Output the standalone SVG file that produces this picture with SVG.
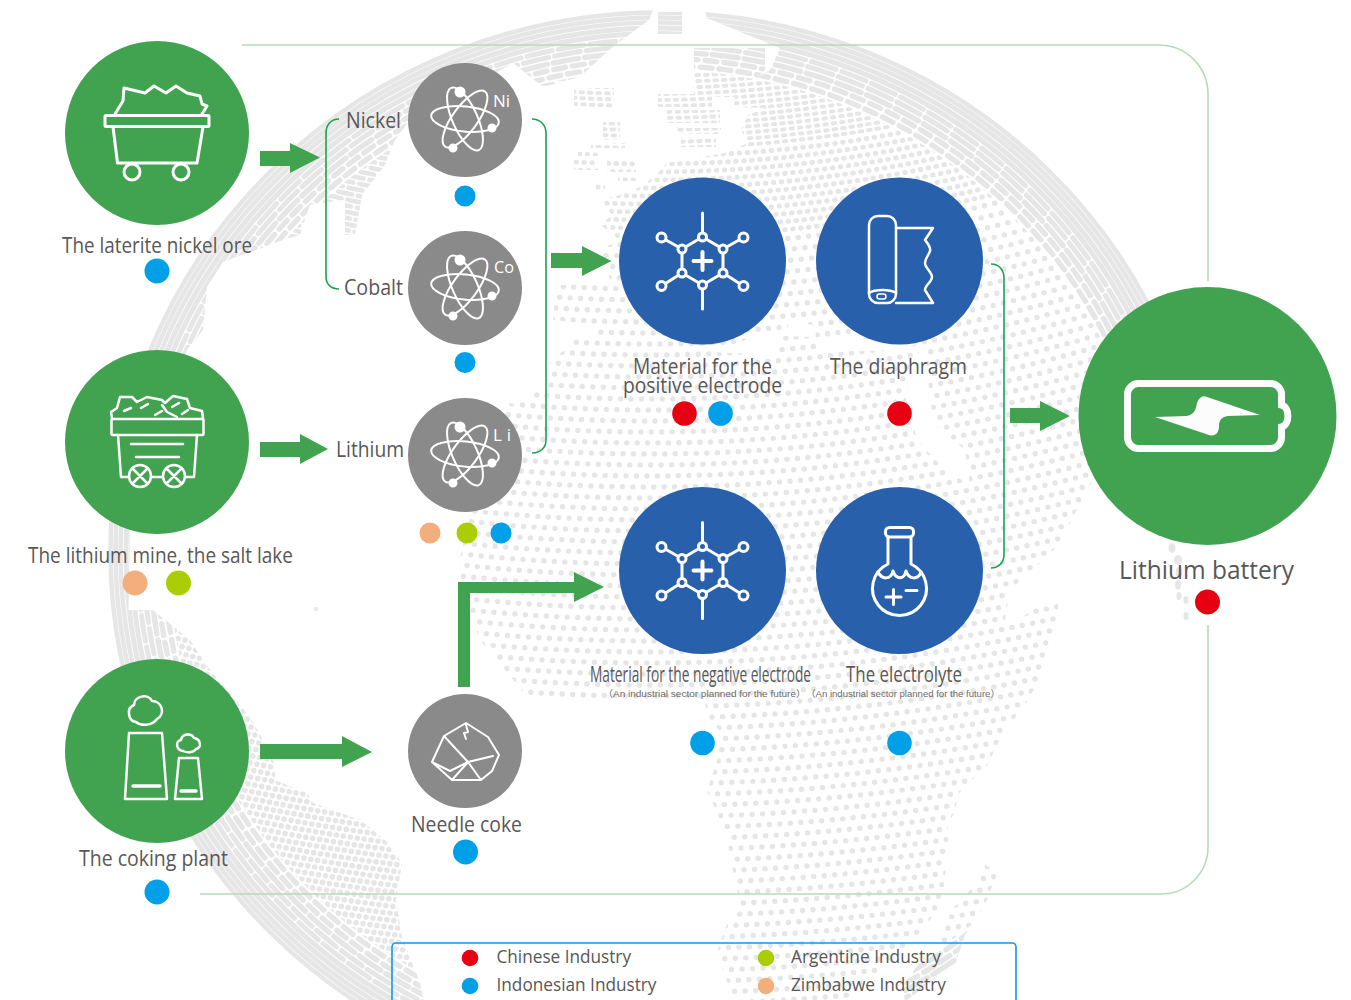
<svg xmlns="http://www.w3.org/2000/svg" xmlns:xlink="http://www.w3.org/1999/xlink" width="1351" height="1000" viewBox="0 0 1351 1000">
<style>
text{font-family:"Open Sans","Noto Sans","Noto Sans CJK SC",sans-serif;fill:#595757}
.l{font-size:21px;text-anchor:start}
.sub{font-family:"Liberation Sans","Noto Sans CJK SC",sans-serif;font-size:9.5px;fill:#6a6a6a}
.leg{font-size:18px}
.el{font-size:17px;fill:#fff}
.ar{fill:#41a350}
.g{fill:#41a350}.k{fill:#8a8a8a}.b{fill:#2860ac}
.ic{fill:none;stroke:#fff;stroke-width:3;stroke-linejoin:round;stroke-linecap:round}
.br{fill:none;stroke:#18a550;stroke-width:1.6}
.bx{fill:none;stroke:#b5dcb9;stroke-width:1.6}
.cb{fill:#00a0e9}.cr{fill:#e60012}.cg{fill:#abcd03}.co{fill:#f3ae7e}
#globe{fill:none;stroke:#e6e6e6;stroke-linecap:round}
</style>
<defs>
<path id="pM" clip-rule="evenodd" d="M700-5L707 18 748 35 780 48 770 70 735 90 734 107 765 108 748 115 741 130 748 143 725 153 667 163 654 177 640 187 620 195 600 200 612 215 600 225 620 240 600 250 612 285 556 285 553 320 596 325 596 335 576 338 565 350 550 360 548 385 515 405 505 400 495 440 470 513 457 573 470 610 480 640 530 700 590 703 705 703 707 712 709 719 719 730 719 755 707 791 717 812 726 834 734 876 741 909 726 926 716 955 725 973 734 1010 834 1010 887 964 894 955 909 944 926 926 937 909 944 887 948 844 948 823 955 812 958 794 976 776 987 766 1001 737 1019 712 1028 700 1037 684 1048 644 1058 619 1058 600 1040 603 1016 623 1005 620 1010 590 1032 570 1047 557 1060 543 1073 517 1087 490 1100 470 1150 440 1250 400 1250-5ZM710 352L775 355 790 322 815 325 817 352 900 350 922 342 905 395 917 440 945 470 970 485 965 450 935 425 930 400 925 345 880 340 760 335Z"/>
<path id="pP" d="M574 88H614V107H574ZM603 122H620V140H603ZM591 143H625V148H591ZM578 152H598V156H578ZM574 160H598V170H574ZM607 160H636V172H607ZM618 175H636V181H618ZM596 184H605V190H596ZM694 48H765V70L740 97H694ZM658 94H712V107H658ZM667 110H720V123H667ZM676 128H721V134H676ZM681 137H716V147H681ZM658 12H682V34H658ZM985 865L998 872 985 905 965 935 955 965 925 985 905 1003 903 985 920 962 940 948 945 915 962 900 978 880Z"/>
<path id="pL1" d="M90 640L128 640 130 530 187 350 203 330 207 287 223 262 283 240 300 235 310 205 345 200 345 235 355 235 362 195 385 165 395 140 410 120 513 63 543 87 580 77 609 50 649 20 655 5 650-5H90Z"/>
<path id="pL2" d="M95 610L153 610 190 640 210 670 250 717 263 740 275 765 275 780 307 793 313 803 360 820 385 840 402 863 396 900 402 937 420 983 425 1010H95Z"/>
<clipPath id="cAll"><use xlink:href="#pM" clip-rule="evenodd"/><use xlink:href="#pP"/><use xlink:href="#pL1"/><use xlink:href="#pL2"/></clipPath>
<clipPath id="cM"><use xlink:href="#pM" clip-rule="evenodd"/><use xlink:href="#pP"/></clipPath>
<clipPath id="cL1"><use xlink:href="#pL1"/></clipPath>
<clipPath id="cL2"><use xlink:href="#pL2"/></clipPath>
<clipPath id="cIn"><ellipse cx="660" cy="552" rx="492" ry="482"/></clipPath>
<g id="atom" class="ic" style="stroke-width:2">
<ellipse rx="34" ry="12.5" transform="rotate(6)"/><ellipse rx="34" ry="12.5" transform="rotate(66)"/><ellipse rx="34" ry="12.5" transform="rotate(126)"/>
<circle cx="-5" cy="-27" r="4.5" fill="#fff"/><circle cx="27" cy="9" r="3.5" fill="#fff"/><circle cx="-12" cy="29" r="3.5" fill="#fff"/>
</g>
<g id="hex" class="ic">
<path d="M0-48V-24L20.500-12V12L0 24V48M0 24L-20.500 12V-12L0-24M20.500-12L41-23.500M20.500 12L41 25M-20.500-12L-41-23.500M-20.500 12L-41 25"/>
<path style="stroke-width:4" d="M-9 0H9M0-9V9"/>
<g fill="#2860ac" style="fill:#2860ac"><circle cy="-24" r="4"/><circle cx="20.500" cy="-12" r="4"/><circle cx="20.500" cy="12" r="4"/><circle cy="24" r="4"/><circle cx="-20.500" cy="12" r="4"/><circle cx="-20.500" cy="-12" r="4"/><circle cx="-41" cy="-23.500" r="4.500"/><circle cx="41" cy="-23.500" r="4.500"/><circle cx="-41" cy="25" r="4.500"/><circle cx="41" cy="25" r="4.500"/></g>
</g>
</defs>

<g id="globe">
<g clip-path="url(#cAll)">
<ellipse cx="660" cy="552" rx="549.5" ry="539.5" stroke-width="4.500"/><ellipse cx="660" cy="552" rx="544.500" ry="534.500" stroke-width="4.500"/><ellipse cx="660" cy="552" rx="539.500" ry="529.500" stroke-width="4.500"/><ellipse cx="660" cy="552" rx="534" ry="524" stroke-width="5"/><ellipse cx="660" cy="552" rx="528.500" ry="518.500" stroke-width="5"/>
<g stroke-dasharray="26 6"><ellipse cx="660" cy="552" rx="522.500" ry="512.500" stroke-width="5"/><ellipse cx="660" cy="552" rx="516.500" ry="506.500" stroke-width="5"/><ellipse cx="660" cy="552" rx="510" ry="500" stroke-width="5.400"/></g>
<g stroke-dasharray="12 7"><ellipse cx="660" cy="552" rx="503.500" ry="493.500" stroke-width="5.400"/><ellipse cx="660" cy="552" rx="496.500" ry="486.500" stroke-width="5.400"/></g>
</g>
<g clip-path="url(#cIn)">
<g clip-path="url(#cM)"><g transform="translate(650,-1200)">
<g stroke-width="4" stroke-dasharray="2.500 6"><circle r="1222"/><circle r="1228"/><circle r="1234"/><circle r="1240"/><circle r="1246"/><circle r="1252"/><circle r="1258"/><circle r="1264"/><circle r="1270"/><circle r="1276"/><circle r="1282"/><circle r="1288"/><circle r="1294"/><circle r="1300"/><circle r="1306"/><circle r="1312"/><circle r="1318"/><circle r="1324"/><circle r="1330"/><circle r="1336"/><circle r="1342"/><circle r="1348"/></g>
<g stroke-width="5" stroke-dasharray="0.5 7.500"><circle r="1356"/><circle r="1364"/><circle r="1372"/><circle r="1380"/><circle r="1388"/><circle r="1396"/><circle r="1404"/><circle r="1412"/><circle r="1420"/><circle r="1428"/><circle r="1436"/></g>
<g stroke-width="5.400" stroke-dasharray="0 10.500"><circle r="1445"/><circle r="1456"/><circle r="1467"/><circle r="1478"/><circle r="1489"/><circle r="1500"/><circle r="1511"/><circle r="1522"/><circle r="1533"/><circle r="1544"/><circle r="1555"/><circle r="1566"/><circle r="1577"/><circle r="1588"/><circle r="1599"/><circle r="1610"/><circle r="1621"/><circle r="1632"/><circle r="1643"/><circle r="1654"/><circle r="1665"/><circle r="1676"/><circle r="1687"/><circle r="1698"/><circle r="1709"/><circle r="1720"/><circle r="1731"/><circle r="1742"/><circle r="1753"/><circle r="1764"/><circle r="1775"/><circle r="1786"/><circle r="1797"/><circle r="1808"/><circle r="1819"/><circle r="1830"/><circle r="1841"/><circle r="1852"/><circle r="1863"/><circle r="1874"/><circle r="1885"/><circle r="1896"/><circle r="1907"/><circle r="1918"/><circle r="1929"/><circle r="1940"/><circle r="1951"/><circle r="1962"/><circle r="1973"/><circle r="1984"/><circle r="1995"/><circle r="2006"/><circle r="2017"/><circle r="2028"/><circle r="2039"/><circle r="2050"/><circle r="2061"/><circle r="2072"/><circle r="2083"/><circle r="2094"/><circle r="2105"/><circle r="2116"/><circle r="2127"/><circle r="2138"/><circle r="2149"/><circle r="2160"/><circle r="2171"/><circle r="2182"/><circle r="2193"/><circle r="2204"/></g>
</g></g>
<g clip-path="url(#cL1)"><g transform="translate(650,-1200)" stroke-width="4.600" stroke-dasharray="14 6"><circle r="1222"/><circle r="1228"/><circle r="1234"/><circle r="1240"/><circle r="1246"/><circle r="1252"/><circle r="1258"/><circle r="1264"/><circle r="1270"/><circle r="1276"/><circle r="1282"/><circle r="1288"/><circle r="1294"/><circle r="1300"/><circle r="1306"/><circle r="1312"/><circle r="1318"/><circle r="1324"/><circle r="1330"/><circle r="1336"/><circle r="1342"/><circle r="1348"/><circle r="1354"/><circle r="1360"/><circle r="1366"/><circle r="1372"/><circle r="1378"/><circle r="1384"/><circle r="1390"/><circle r="1396"/><circle r="1402"/><circle r="1408"/><circle r="1414"/><circle r="1420"/><circle r="1426"/><circle r="1432"/><circle r="1438"/><circle r="1444"/><circle r="1450"/><circle r="1456"/><circle r="1462"/><circle r="1468"/><circle r="1474"/><circle r="1480"/><circle r="1486"/><circle r="1492"/><circle r="1498"/><circle r="1504"/><circle r="1510"/><circle r="1516"/><circle r="1522"/><circle r="1528"/></g></g>
<g clip-path="url(#cL2)"><g transform="translate(650,-1200)" stroke-width="5.600" stroke-dasharray="0 7"><circle r="1800"/><circle r="1807"/><circle r="1814"/><circle r="1821"/><circle r="1828"/><circle r="1835"/><circle r="1842"/><circle r="1849"/><circle r="1856"/><circle r="1863"/><circle r="1870"/><circle r="1877"/><circle r="1884"/><circle r="1891"/><circle r="1898"/><circle r="1905"/><circle r="1912"/><circle r="1919"/><circle r="1926"/><circle r="1933"/><circle r="1940"/><circle r="1947"/><circle r="1954"/><circle r="1961"/><circle r="1968"/><circle r="1975"/><circle r="1982"/><circle r="1989"/><circle r="1996"/><circle r="2003"/><circle r="2010"/><circle r="2017"/><circle r="2024"/><circle r="2031"/><circle r="2038"/><circle r="2045"/><circle r="2052"/><circle r="2059"/><circle r="2066"/><circle r="2073"/><circle r="2080"/><circle r="2087"/><circle r="2094"/><circle r="2101"/><circle r="2108"/><circle r="2115"/><circle r="2122"/><circle r="2129"/><circle r="2136"/><circle r="2143"/><circle r="2150"/><circle r="2157"/><circle r="2164"/><circle r="2171"/><circle r="2178"/><circle r="2185"/><circle r="2192"/><circle r="2199"/><circle r="2206"/></g></g>
</g>
<g style="fill:#e6e6e6;stroke:none"><ellipse cx="1172" cy="548" rx="3.500" ry="5"/><ellipse cx="1178" cy="560" rx="4" ry="5"/><ellipse cx="1179" cy="572" rx="3.500" ry="5"/><ellipse cx="1178" cy="585" rx="3" ry="5"/><ellipse cx="1179" cy="596" rx="2.500" ry="4"/><ellipse cx="1186" cy="600" rx="2.500" ry="4"/><ellipse cx="1186" cy="616" rx="2.500" ry="4"/><circle cx="316" cy="609" r="2"/></g>
</g>

<g id="connectors">
<path class="bx" d="M242 45H1159A49 49 0 0 1 1208 94V281"/>
<path class="bx" d="M200 894H1161A47 47 0 0 0 1208 847V625"/>
<path class="br" d="M339 119C331 119 326 125 326 133V277C326 284 331 289 339 289"/>
<path class="br" d="M532 119C540 119 546 125 546 133V440C546 448 540 453 532 453"/>
<path class="br" d="M991 264C999 264 1004 270 1004 278V555C1004 562 999 568 991 568"/>
<polygon class="ar" points="260,151 290,151 290,143 320,157.500 290,173 290,166 260,166"/>
<polygon class="ar" points="260,442 300,442 300,434 328,449 300,464 300,457 260,457"/>
<polygon class="ar" points="260,744 342,744 342,736 372,752 342,767 342,759 260,759"/>
<polygon class="ar" points="551,253 582,253 582,246 611.500,261 582,276 582,268 551,268"/>
<polygon class="ar" points="1010,408 1040,408 1040,401 1070,416 1040,431 1040,423 1010,423"/>
<polygon class="ar" points="458,687 458,582 574,582 574,572 604,587 574,602 574,593 470,593 470,687"/>
</g>

<g id="node-nickel-ore">
<circle class="g" cx="157" cy="133" r="92"/>
<g class="ic"><rect x="105" y="115.500" width="104" height="11" rx="1"/><path d="M113 127L117.500 163H197L203 127"/><circle cx="132" cy="172" r="8"/><circle cx="181" cy="172" r="8"/><path d="M115 114L123 101 124 88 145 93 154 86 166 93 176 86 187 93 200 96 202 104 207 106 202 114"/></g>
<text class="l" x="62" y="253" textLength="190" lengthAdjust="spacingAndGlyphs">The laterite nickel ore</text>
<circle class="cb" cx="157" cy="271" r="12.500"/>
</g>
<g id="node-lithium-mine">
<circle class="g" cx="157" cy="442" r="92"/>
<g class="ic" style="stroke-width:2.500"><rect x="111.500" y="419" width="92" height="16" rx="1"/><path d="M118 435L121 477H194L197 435M131 444H183M136 457H179"/><g fill="#41a350" style="fill:#41a350"><circle cx="140" cy="476" r="11"/><circle cx="174" cy="476" r="11"/></g><path d="M133 469L147 483M147 469L133 483M167 469L181 483M181 469L167 483M112 418L111 412 117 408 120 397H132L137 402 147 397 162 400 165 403 173 396 187 399 190 408 202 411 203 418M162 405L167 412 177 417M124 411L131 408M141 408L148 404M155 415L162 411M172 407L179 403M182 414L188 410"/></g>
<text class="l" x="28" y="563" textLength="265" lengthAdjust="spacingAndGlyphs">The lithium mine, the salt lake</text>
<circle class="co" cx="135" cy="583" r="12.500"/><circle class="cg" cx="178.500" cy="583" r="12.500"/>
</g>
<g id="node-coking-plant">
<circle class="g" cx="157" cy="751" r="92"/>
<g class="ic" style="stroke-width:2.500"><path d="M129 733H162L167 799H125ZM179 758H198L202 799H175Z"/><path style="stroke-width:3.500" d="M133 786H160M181 791H196"/><path d="M136 722C128 721 126 708 134 705C134 696 148 693 152 701C162 701 166 714 157 719C153 725 142 727 136 722Z"/><path d="M183 751C176 750 175 741 181 740C182 733 192 733 194 738C201 739 202 748 196 749C193 753 187 753 183 751Z"/></g>
<text class="l" x="79" y="866" textLength="149" lengthAdjust="spacingAndGlyphs">The coking plant</text>
<circle class="cb" cx="157" cy="892" r="12.500"/>
</g>
<g id="node-nickel">
<circle class="k" cx="465" cy="120" r="57"/>
<use xlink:href="#atom" transform="translate(465,119)"/>
<text class="el" x="493" y="107">Ni</text>
<text class="l" x="346" y="128" textLength="55" lengthAdjust="spacingAndGlyphs">Nickel</text>
<circle class="cb" cx="465" cy="196" r="10.500"/>
</g>
<g id="node-cobalt">
<circle class="k" cx="465" cy="288" r="57"/>
<use xlink:href="#atom" transform="translate(465,287)"/>
<text class="el" x="494" y="273" textLength="20" lengthAdjust="spacingAndGlyphs">Co</text>
<text class="l" x="344" y="295" textLength="59" lengthAdjust="spacingAndGlyphs">Cobalt</text>
<circle class="cb" cx="465" cy="362.500" r="10.500"/>
</g>
<g id="node-lithium">
<circle class="k" cx="465" cy="455" r="57"/>
<use xlink:href="#atom" transform="translate(465,454)"/>
<text class="el" x="493" y="441" textLength="18" lengthAdjust="spacing">Li</text>
<text class="l" x="336" y="457" textLength="68" lengthAdjust="spacingAndGlyphs">Lithium</text>
<circle class="co" cx="430" cy="533" r="10.500"/><circle class="cg" cx="467" cy="533" r="10.500"/><circle class="cb" cx="501" cy="533" r="10.500"/>
</g>
<g id="node-needle-coke">
<circle class="k" cx="465" cy="751" r="57"/>
<g class="ic" style="stroke-width:2"><path d="M466 723L488 737 499 755 492 771 481 780H452L432 762 444 736ZM444 736L468 762 452 780M468 762L481 780M432 762L450 771 468 762 493 756M466 725L468 732 464 733 466 739"/></g>
<text class="l" x="411" y="832" textLength="111" lengthAdjust="spacingAndGlyphs">Needle coke</text>
<circle class="cb" cx="465.500" cy="852" r="12.500"/>
</g>
<g id="node-positive">
<circle class="b" cx="702.500" cy="261" r="83.500"/>
<use xlink:href="#hex" transform="translate(702.500,261)"/>
<text class="l" x="633" y="374" textLength="139" lengthAdjust="spacingAndGlyphs">Material for the</text>
<text class="l" x="623" y="393" textLength="159" lengthAdjust="spacingAndGlyphs">positive electrode</text>
<circle class="cr" cx="684.500" cy="413.500" r="12.300"/><circle class="cb" cx="720.500" cy="413.500" r="12.300"/>
</g>
<g id="node-diaphragm">
<circle class="b" cx="899.500" cy="261" r="83.500"/>
<g class="ic" style="stroke-width:2.500"><rect x="869" y="216" width="27" height="87" rx="9"/><path d="M869 293C875 289 890 289 896 293M896 228H933L925 240C928 244 931 247 930 251C929 255 925 258 925 263C925 268 932 272 932 277C932 282 925 285 925 290L933 303H896"/><rect x="877" y="294" width="9" height="5" rx="2.500" style="stroke-width:1.500"/></g>
<text class="l" x="830" y="374" textLength="137" lengthAdjust="spacingAndGlyphs">The diaphragm</text>
<circle class="cr" cx="899.500" cy="413.500" r="12.300"/>
</g>
<g id="node-negative">
<circle class="b" cx="702.500" cy="570.500" r="83.500"/>
<use xlink:href="#hex" transform="translate(702.500,570.500)"/>
<text class="l" x="590" y="682" textLength="221" lengthAdjust="spacingAndGlyphs">Material for the negative electrode</text>
<text class="sub" x="603" y="697" textLength="203" lengthAdjust="spacingAndGlyphs">（An industrial sector planned for the future）</text>
<circle class="cb" cx="702.500" cy="743" r="12.300"/>
</g>
<g id="node-electrolyte">
<circle class="b" cx="899.500" cy="570.500" r="83.500"/>
<g class="ic"><rect x="885.500" y="527.500" width="28" height="9.500" rx="4"/><path d="M888 537V564A27 27 0 1 0 911 564V537"/><path d="M878 572C882 580 891 580 893 571C896 580 904 580 906 571C909 580 918 580 921 572"/><path d="M886 597H901M893.500 589.500V604.500M906 590.500H917"/></g>
<text class="l" x="846" y="682" textLength="116" lengthAdjust="spacingAndGlyphs">The electrolyte</text>
<text class="sub" x="806" y="697" textLength="194" lengthAdjust="spacingAndGlyphs">（An industrial sector planned for the future）</text>
<circle class="cb" cx="899.500" cy="743" r="12.300"/>
</g>
<g id="node-battery">
<circle class="g" cx="1207.500" cy="416" r="129"/>
<g fill="none" stroke="#fcfcfc" stroke-width="7"><path d="M1139 383.500H1270A11 11 0 0 1 1281.500 395V405C1290 407 1290 425 1281.500 427V437A11 11 0 0 1 1270 448.500H1139A11 11 0 0 1 1127.500 437V395A11 11 0 0 1 1139 383.500Z"/></g>
<path fill="#fcfcfc" d="M1155 417L1187 416C1196 414 1196 407 1197 403C1199 397 1203 395 1207 397L1260 415L1228 416C1221 417 1219 421 1219 426C1219 433 1215 437 1209 435Z"/>
<text x="1119" y="579" style="font-size:26px" textLength="175" lengthAdjust="spacingAndGlyphs">Lithium battery</text>
<circle class="cr" cx="1207.500" cy="602" r="12.500"/>
</g>
<g id="legend">
<rect x="392" y="943" width="624" height="70" rx="4" fill="none" stroke="#0e9be0" stroke-width="1.600"/>
<circle class="cr" cx="470" cy="958" r="8.300"/><text class="leg" x="496.500" y="963" textLength="134.500" lengthAdjust="spacingAndGlyphs">Chinese Industry</text>
<circle class="cb" cx="470" cy="986" r="8.300"/><text class="leg" x="496.500" y="991" textLength="160" lengthAdjust="spacingAndGlyphs">Indonesian Industry</text>
<circle class="cg" cx="766" cy="958" r="8.300"/><text class="leg" x="791" y="963" textLength="150" lengthAdjust="spacingAndGlyphs">Argentine Industry</text>
<circle class="co" cx="766" cy="986" r="8.300"/><text class="leg" x="791" y="991" textLength="155" lengthAdjust="spacingAndGlyphs">Zimbabwe Industry</text>
</g>
</svg>
